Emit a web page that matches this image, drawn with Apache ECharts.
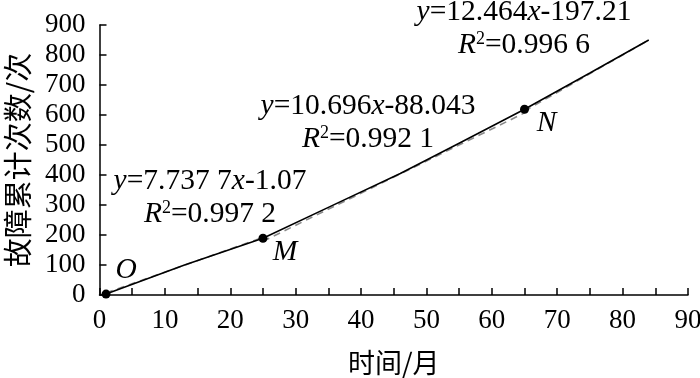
<!DOCTYPE html>
<html><head><meta charset="utf-8">
<script src="https://cdn.jsdelivr.net/npm/echarts@6/dist/echarts.min.js"></script>
<style>html,body{margin:0;padding:0;background:#fff}#c{width:700px;height:378px}</style>
</head><body><div id="c"></div>
<script>
// observed cumulative failures
const months = [1, 13, 25, 35, 46, 55, 65, 75, 84];
const failures = [3, 100, 189, 292, 405, 506, 619, 740, 850];
// fitted trend segments (endpoints)
const fit1 = [[1, 7], [25, 192]];
const fit2 = [[25, 179], [65, 607]];
const fit3 = [[65, 613], [84, 850]];
// key points
const keyMonths = [1, 25, 65];
const keyValues = [3, 189, 619];
const keyNames = ['O', 'M', 'N'];
const xTicks = [0, 90, 5];
const yTicks = [0, 900, 100];

const serif = '"Liberation Serif", "Times New Roman", serif';
const cjk = '"Noto Sans CJK SC", sans-serif';
const ink = '#000';
const chart = echarts.init(document.getElementById('c'));
const FS = 29.5;
const rich = {
  n: {fontFamily: serif, fontSize: FS, color: ink},
  i: {fontFamily: serif, fontSize: FS, fontStyle: 'italic', color: ink},
  s: {fontFamily: serif, fontSize: 18, color: ink, verticalAlign: 'top', padding: [0, 0, 12, 0]}
};
function eq(x, y, l1, l2) {
  return [
    {type: 'text', x: x, y: y, style: {text: l1, rich: rich, textAlign: 'center', textVerticalAlign: 'middle'}},
    {type: 'text', x: x, y: y + 33, style: {text: l2, rich: rich, textAlign: 'center', textVerticalAlign: 'middle'}}
  ];
}
const eqGraphics = [].concat(
  eq(210, 181, '{i|y}{n|=7.737 7}{i|x}{n|-1.07}', '{i|R}{s|2}{n|=0.997 2}'),
  eq(368, 106, '{i|y}{n|=10.696}{i|x}{n|-88.043}', '{i|R}{s|2}{n|=0.992 1}'),
  eq(524, 12, '{i|y}{n|=12.464}{i|x}{n|-197.21}', '{i|R}{s|2}{n|=0.996 6}')
);

const dashStyle = {color: '#8a8a8a', width: 1.6, type: [7, 5]};
chart.setOption({
  animation: false,
  grid: {left: 99.5, right: 12, top: 25, bottom: 83, outerBoundsMode: 'none', containLabel: false},
  xAxis: {
    type: 'value', min: xTicks[0], max: xTicks[1], interval: xTicks[2],
    name: '时间/月', nameLocation: 'middle', nameGap: 54,
    nameTextStyle: {fontFamily: cjk, fontSize: 27, color: ink},
    axisLine: {lineStyle: {color: ink, width: 1.5}},
    axisTick: {inside: true, length: 7, lineStyle: {color: ink, width: 1.5}},
    axisLabel: {fontFamily: serif, fontSize: 27, color: ink, margin: 12,
      formatter: v => (v % 10 === 0 ? String(v) : '')},
    splitLine: {show: false}
  },
  yAxis: {
    type: 'value', min: yTicks[0], max: yTicks[1], interval: yTicks[2],
    name: '故障累计次数/次', nameLocation: 'middle', nameGap: 67,
    nameTextStyle: {fontFamily: cjk, fontSize: 29, color: ink},
    axisLine: {show: true, lineStyle: {color: ink, width: 1.5}},
    axisTick: {inside: true, length: 7, lineStyle: {color: ink, width: 1.5}},
    axisLabel: {fontFamily: serif, fontSize: 27, color: ink, margin: 14},
    splitLine: {show: false}
  },
  series: [
    {type: 'line', data: fit1, symbol: 'none', lineStyle: dashStyle, z: 2},
    {type: 'line', data: fit2, symbol: 'none', lineStyle: dashStyle, z: 2},
    {type: 'line', data: fit3, symbol: 'none', lineStyle: dashStyle, z: 2},
    {type: 'line', data: months.map((m, i) => [m, failures[i]]), symbol: 'none',
      lineStyle: {color: ink, width: 1.6}, z: 3},
    {type: 'scatter', data: keyMonths.map((m, i) => [m, keyValues[i]]), symbolSize: 9,
      itemStyle: {color: ink, opacity: 1}, z: 4}
  ],
  graphic: eqGraphics
});
// point letters placed next to the key points
const letterOffsets = [[20, -24], [22, 14], [22, 14]];
const letters = keyNames.map((name, i) => {
  const p = chart.convertToPixel({gridIndex: 0}, [keyMonths[i], keyValues[i]]);
  return {type: 'text', x: p[0] + letterOffsets[i][0], y: p[1] + letterOffsets[i][1],
    style: {text: name, fontFamily: serif, fontStyle: 'italic', fontSize: FS, fill: ink,
      textAlign: 'center', textVerticalAlign: 'middle'}};
});
chart.setOption({graphic: eqGraphics.concat(letters)});
</script></body></html>
